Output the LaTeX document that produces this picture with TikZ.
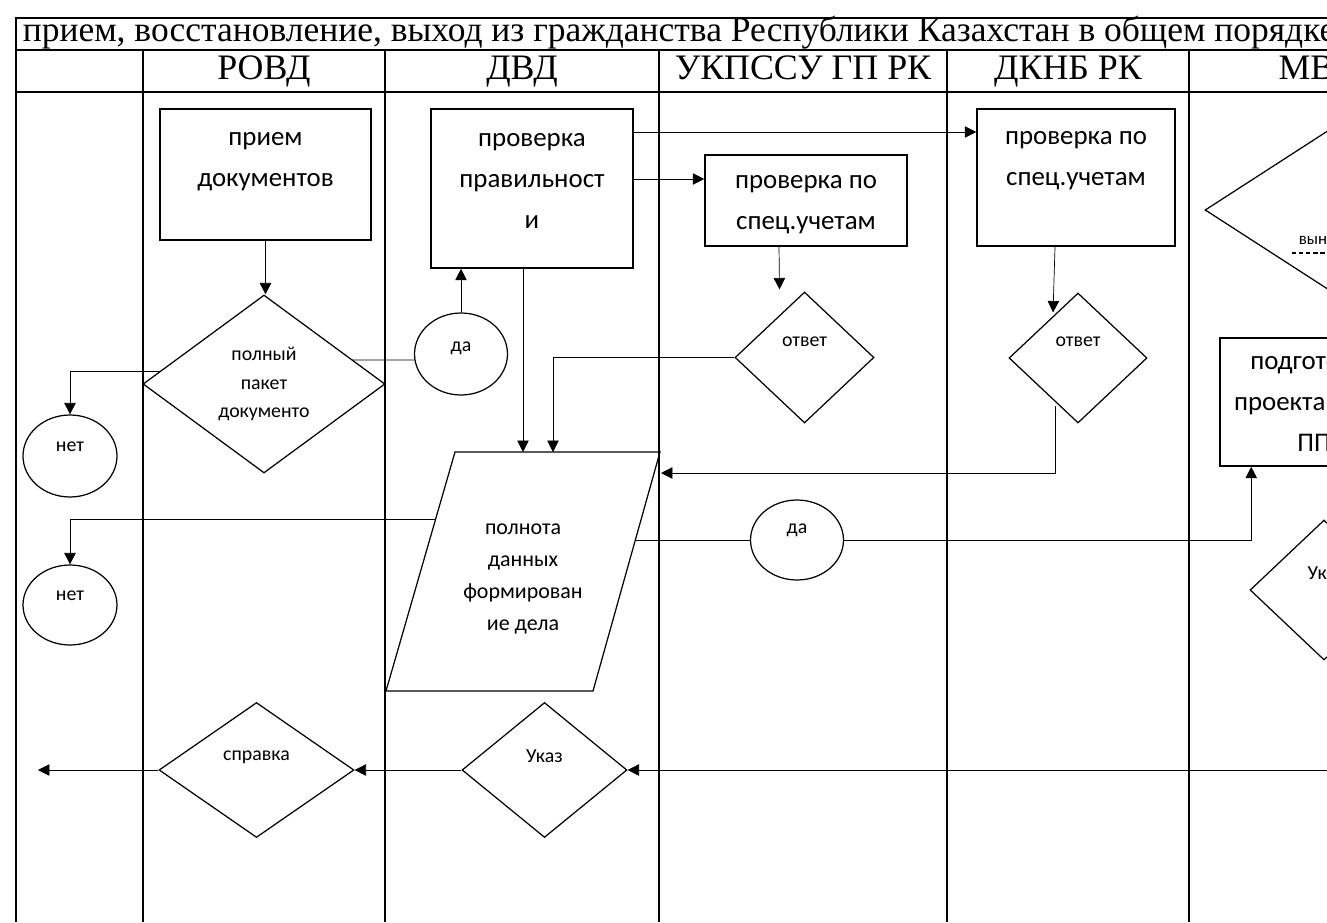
\documentclass[tikz,border=0pt]{standalone}
\usepackage{fontspec}
\setmainfont{Carlito}
\newfontfamily\hdrfont{Liberation Serif}
\usetikzlibrary{shapes.geometric,arrows.meta,backgrounds}

\begin{document}
\begin{tikzpicture}[
    x=0.02cm, y=-0.02cm,
    line width=0.9pt,
    arr/.style={-{Triangle[length=6.5pt,width=6.5pt]}},
    box/.style={draw, rectangle, fill=white, inner sep=0pt},
    dmd/.style={draw, diamond, fill=white, inner sep=0pt, line width=0.7pt},
    oval/.style={draw, ellipse, fill=white, inner sep=0pt, line width=0.7pt},
    big/.style={font=\fontsize{15.3}{23.2}\selectfont, align=center, inner sep=0pt},
    mid/.style={font=\fontsize{12.5}{18.1}\selectfont, align=center, inner sep=0pt},
    small/.style={font=\fontsize{11.3}{16.4}\selectfont, align=center, inner sep=0pt},
    hdr/.style={font=\hdrfont\fontsize{20.4}{22}\selectfont, inner sep=0pt, anchor=base}]
  \useasboundingbox (0,0) rectangle (1327,922);
  \clip (0,0) rectangle (1327,922);

  % title and lane headers
  \node[hdr, anchor=base west, font=\hdrfont\fontsize{20.2}{22}\selectfont] (title) at (22,42)
    {прием, восстановление, выход из гражданства Республики Казахстан в общем порядке};
  \node[hdr] (hRovd) at (264,80) {РОВД};
  \node[hdr] (hDvd) at (522,80) {ДВД};
  \node[hdr] (hUkp) at (803,80) {УКПССУ ГП РК};
  \node[hdr] (hDknb) at (1068,80) {ДКНБ РК};
  \node[hdr] (hMvd) at (1318,80) {МВД};

  % РОВД
  \node[box, minimum width=4.22cm, minimum height=2.62cm] (accept) at (265.5,174.5) {};
  \node[big] (acceptT) at (265.5,161.5) {прием\\документов};
  \node[dmd, small, minimum width=4.84cm, minimum height=3.56cm] (full) at (264,384) {полный\\пакет\\документо};
  \node[oval, minimum width=1.88cm, minimum height=1.64cm] (noA) at (70,456) {};
  \node[small] (noAT) at (70,447) {нет};
  \node[oval, minimum width=1.88cm, minimum height=1.6cm] (noB) at (70,605) {};
  \node[small] (noBT) at (70,596) {нет};
  \node[dmd, minimum width=3.9cm, minimum height=2.7cm] (cert) at (256.5,770) {};
  \node[small] (certT) at (256.5,757) {справка};

  % ДВД
  \node[box, minimum width=4.04cm, minimum height=3.18cm] (check) at (532,188.5) {};
  \node[big] (checkT) at (532,181) {проверка\\правильност\\и};
  \node[oval, minimum width=1.86cm, minimum height=1.64cm] (yesA) at (461,354) {};
  \node[small] (yesAT) at (461,348) {да};
  \coordinate (data) at (523,571.5);
  \coordinate (dataTop) at (523,452);
  \coordinate (dataTR) at (660,452);
  \draw[fill=white, line width=0.7pt] (455,452) -- (dataTR) -- (593,691) -- (386,691) -- cycle;
  \node[mid] (dataT) at (523,579) {полнота\\данных\\формирован\\ие дела};
  \node[dmd, minimum width=3.3cm, minimum height=2.7cm] (decree) at (544.5,770) {};
  \node[small] (decreeT) at (544.5,756) {Указ};

  % УКПССУ ГП РК
  \node[box, minimum width=4.04cm, minimum height=1.82cm] (specA) at (806,200.5) {};
  \node[big] (specAT) at (806,204.5) {проверка по\\спец.учетам};
  \node[dmd, minimum width=2.78cm, minimum height=2.62cm] (ansA) at (804.5,357.5) {};
  \node[small] (ansAT) at (804.5,342) {ответ};
  \node[oval, minimum width=1.86cm, minimum height=1.6cm] (yesB) at (797,540) {};
  \node[small] (yesBT) at (797,530) {да};

  % ДКНБ РК
  \node[box, minimum width=3.96cm, minimum height=2.74cm] (specB) at (1076,177.5) {};
  \node[big] (specBT) at (1076,161) {проверка по\\спец.учетам};
  \node[dmd, minimum width=2.76cm, minimum height=2.6cm] (ansB) at (1078,358) {};
  \node[small] (ansBT) at (1078,342) {ответ};

  % МВД
  \node[dmd, minimum width=5.6cm, minimum height=3.62cm] (decide) at (1345,210) {};
  \node[small, anchor=west, font=\fontsize{9.6}{12}\selectfont] (decideT) at (1298,240) {вынесение};
  \draw[dash pattern=on 2.5pt off 1.5pt, line width=0.6pt] (1292,253) -- (1345,253);
  \node[box, minimum width=3.76cm, minimum height=2.56cm] (draft) at (1314,402) {};
  \node[big] (draftT) at (1314,404) {подготовка\\проекта Указа\\ПП};
  \node[dmd, minimum width=2.96cm, minimum height=2.8cm] (decreeM) at (1324,590) {};
  \node[small] (decreeMT) at (1326,573) {Указ};

  \coordinate (offR) at (1345,770);
  \coordinate (exitL) at (38,770);

  % connectors
  \begin{scope}[on background layer]
    \draw[arr] (accept.south) -- (accept.south |- full.north);
    \draw ([yshift=0.48cm]full.center) -- ([yshift=-0.12cm]yesA.west);
    \draw[arr] ([yshift=0.26cm]full.center) -| (noA.north);
    \draw[arr] (yesA.north) -- (yesA.north |- check.south);
    \draw[arr] ([yshift=1.13cm]check.east) -- ([yshift=1.13cm]check.east -| specB.west);
    \draw[arr] ([yshift=0.19cm]check.east) -- ([yshift=0.19cm]check.east -| specA.west);
    \draw[arr] (check.south -| dataTop) -- (dataTop);
    \draw[arr] ([xshift=-0.54cm]specA.south) -- ([xshift=-0.5cm,yshift=0.04cm]ansA.north);
    \draw[arr] ([xshift=-0.42cm]specB.south) -- ([xshift=-0.5cm,yshift=-0.4cm]ansB.north);
    \draw[arr] (ansA.west) -| ([xshift=0.6cm]dataTop);
    \draw[arr] ([xshift=-0.46cm,yshift=-0.96cm]ansB.center) |- ([xshift=0.02cm,yshift=-0.42cm]dataTR);
    \draw[arr] ([yshift=1.05cm]data) -| (noB.north);
    \draw (data |- yesB.west) -- (yesB.west);
    \draw[arr] (yesB.east) -| ([xshift=0.64cm]draft.south west);
    \draw[arr] (offR) -- (decree.east);
    \draw[arr] (decree.west) -- (cert.east);
    \draw[arr] (cert.west) -- (exitL);
  \end{scope}

  % table grid
  \draw (16,922) -- (16,18) -- (1345,18);
  \draw (16,50) -- (1345,50);
  \draw (16,92) -- (1345,92);
  \foreach \x in {143,385,659,947,1189}
    \draw (\x,50) -- (\x,922);
\end{tikzpicture}
\end{document}
